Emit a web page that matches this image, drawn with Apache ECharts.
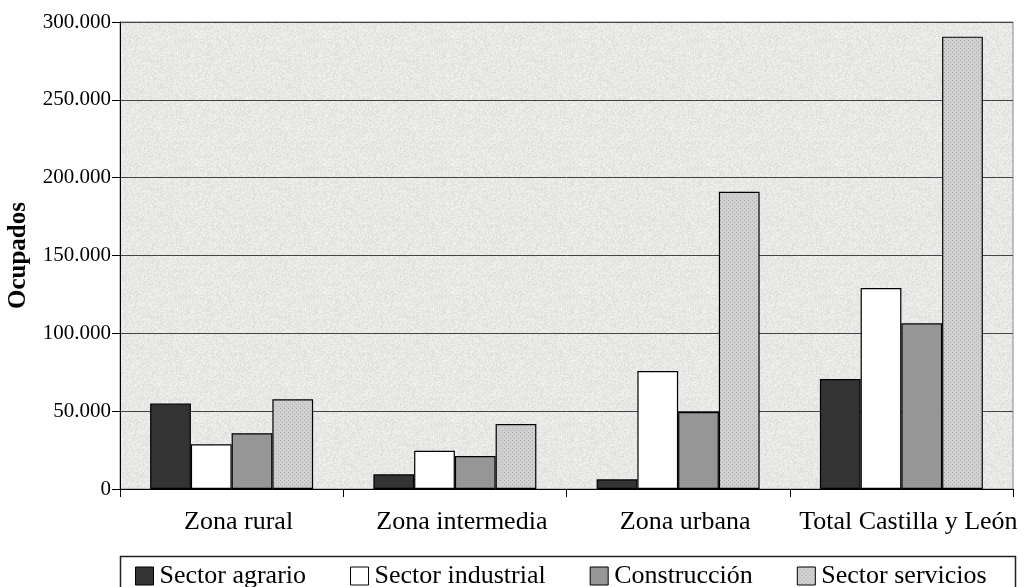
<!DOCTYPE html>
<html>
<head>
<meta charset="utf-8">
<script src="https://cdn.jsdelivr.net/npm/echarts@6/dist/echarts.min.js"></script>
<style>
  html, body { margin: 0; padding: 0; background: #ffffff; }
  #chart { width: 1029px; height: 587px; }
</style>
</head>
<body>
<div id="chart"></div>
<script>
// Datos (ocupados)
var zonas = ["Zona rural", "Zona intermedia", "Zona urbana", "Total Castilla y León"];
var sectores = ["Sector agrario", "Sector industrial", "Construcción", "Sector servicios"];
var agrario = [55000, 9400, 6200, 70700];
var industrial = [28700, 24600, 75800, 129100];
var construccion = [35800, 21200, 49500, 106400];
var servicios = [57600, 41800, 191000, 290600];
var yTicks = [0, 50000, 100000, 150000, 200000, 250000, 300000];

// textura gris del fondo
function makeNoise() {
  var c = document.createElement("canvas");
  c.width = 128;
  c.height = 128;
  var ctx = c.getContext("2d");
  var img = ctx.createImageData(128, 128);
  var seed = 7;
  for (var i = 0; i < img.data.length; i += 4) {
    seed = (seed * 16807) % 2147483647;
    var v = 232 + ((seed % 22) - 11);
    img.data[i] = v;
    img.data[i + 1] = v;
    img.data[i + 2] = v - 2;
    img.data[i + 3] = 255;
  }
  ctx.putImageData(img, 0, 0);
  return c;
}

// puntos para servicios
function makeDots() {
  var c = document.createElement("canvas");
  c.width = 4;
  c.height = 4;
  var ctx = c.getContext("2d");
  ctx.fillStyle = "#d0d0d0";
  ctx.fillRect(0, 0, 4, 4);
  ctx.fillStyle = "#b0b0b0";
  ctx.fillRect(0, 0, 1, 1);
  ctx.fillRect(2, 2, 1, 1);
  return c;
}

var noisePattern = { image: makeNoise(), repeat: "repeat" };
var dotPattern = { image: makeDots(), repeat: "repeat" };

function fmt(v) {
  return String(v).replace(/\B(?=(\d{3})+(?!\d))/g, ".");
}

var dom = document.getElementById("chart");
var myChart = echarts.init(dom, null, { renderer: "canvas" });

var fills = ["#333333", "#ffffff", "#969696", dotPattern];
var values = [agrario, industrial, construccion, servicios];

var series = sectores.map(function (name, i) {
  return {
    name: name,
    type: "bar",
    data: values[i],
    barGap: "0%",
    barCategoryGap: "27%",
    itemStyle: {
      color: fills[i],
      borderColor: "#000000",
      borderWidth: 1.2
    }
  };
});

var option = {
  animation: false,
  backgroundColor: "#ffffff",
  textStyle: { fontFamily: "Liberation Serif", color: "#000000" },
  grid: {
    left: 120,
    right: 16,
    top: 22,
    bottom: 98,
    containLabel: false,
    outerBoundsMode: "none",
    show: true,
    backgroundColor: noisePattern,
    borderColor: "#888888",
    borderWidth: 1
  },
  legend: {
    data: sectores.map(function (s, i) {
      return { name: s, itemStyle: { color: fills[i], borderColor: "#000", borderWidth: 1 } };
    }),
    left: 135,
    top: 563,
    padding: 0,
    icon: "rect",
    itemWidth: 18,
    itemHeight: 18,
    itemGap: 44,
    textStyle: { fontFamily: "Liberation Serif", fontSize: 26, color: "#000", padding: [0, 0, 0, 1] }
  },
  graphic: [
    {
      type: "rect",
      left: 118,
      top: 554,
      shape: { width: 895, height: 40 },
      style: { fill: "none", stroke: "#222", lineWidth: 1.5 }
    }
  ],
  xAxis: {
    type: "category",
    data: zonas,
    axisLine: { lineStyle: { color: "#000", width: 1 } },
    axisTick: { show: true, length: 8, alignWithLabel: false, lineStyle: { color: "#000" } },
    axisLabel: {
      interval: 0,
      fontFamily: "Liberation Serif",
      fontSize: 26,
      color: "#000",
      margin: 20,
      padding: [0, 0, 0, 14]
    }
  },
  yAxis: {
    type: "value",
    min: yTicks[0],
    max: yTicks[yTicks.length - 1],
    interval: 50000,
    name: "Ocupados",
    nameLocation: "middle",
    nameGap: 89,
    nameTextStyle: { fontFamily: "Liberation Serif", fontSize: 25, fontWeight: "bold", color: "#000" },
    axisLine: { show: true, lineStyle: { color: "#000", width: 1 } },
    axisTick: { show: true, length: 8, lineStyle: { color: "#000" } },
    axisLabel: {
      fontFamily: "Liberation Serif",
      fontSize: 21,
      color: "#000",
      margin: 9,
      formatter: function (v) { return fmt(v); }
    },
    splitLine: { show: true, lineStyle: { color: "#444444", width: 1 } }
  },
  series: series
};

myChart.setOption(option);
window.addEventListener("resize", myChart.resize);
</script>
</body>
</html>
